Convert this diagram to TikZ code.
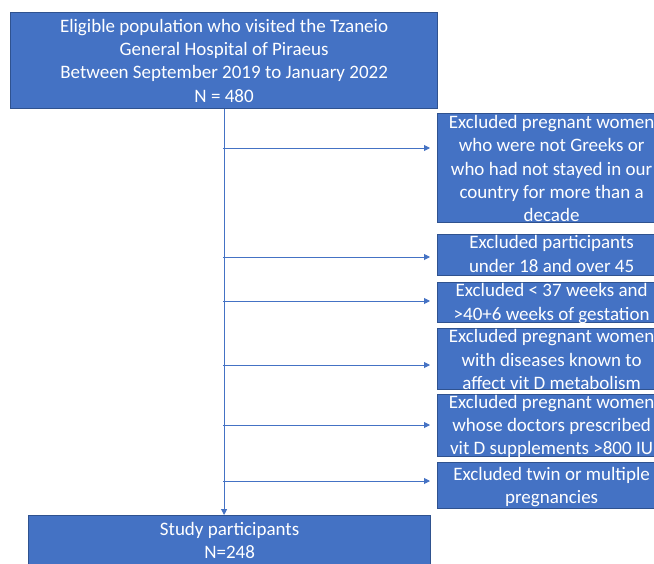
\documentclass[tikz,border=0pt]{standalone}
\usepackage{fontspec}
\setmainfont{Carlito}
\usetikzlibrary{arrows.meta}
\definecolor{boxfill}{HTML}{4472C4}
\definecolor{boxline}{HTML}{2F528F}
\definecolor{conn}{HTML}{4472C4}
\tikzset{
  box/.style={draw=boxline, line width=1.2pt, fill=boxfill, inner sep=0pt, anchor=north west},
  txt/.style={text=white, align=center, inner sep=0pt, font=\fontsize{19pt}{23.3pt}\selectfont},
  conn/.style={draw=conn, line width=0.9pt},
  arr/.style={conn, -{Triangle[length=6pt,width=6pt]}},
}
\begin{document}
\begin{tikzpicture}[x=1pt,y=-1pt]
\useasboundingbox (0,0) rectangle (654,563);
\clip (0,0) rectangle (654,563);
\fill[white] (0,0) rectangle (654,563);
% top box
\node[box, minimum width=427pt, minimum height=96pt] (top) at (10,12) {};
\node[txt] at (top.center) {Eligible population who visited the Tzaneio\\General Hospital of Piraeus\\Between September 2019 to January 2022\\N = 480};
% bottom box
\node[box, minimum width=402pt, minimum height=54pt] (bot) at (28,515) {};
\node[txt] at ([yshift=2pt]bot.center) {Study participants\\N=248};
% exclusion boxes
\node[box, minimum width=228pt, minimum height=109pt] (e1) at (437,113) {};
\node[txt] at ([yshift=-0.5pt]e1.center) {Excluded pregnant women\\who were not Greeks or\\who had not stayed in our\\country for more than a\\decade};
\node[box, minimum width=228pt, minimum height=41pt] (e2) at (437,234) {};
\node[txt] at ([yshift=1pt]e2.center) {Excluded participants\\under 18 and over 45};
\node[box, minimum width=228pt, minimum height=40pt] (e3) at (437,282) {};
\node[txt] at ([yshift=-1pt]e3.center) {Excluded {<} 37 weeks and\\{>}40+6 weeks of gestation};
\node[box, minimum width=228pt, minimum height=61pt] (e4) at (437,328) {};
\node[txt] at ([yshift=-0.5pt]e4.center) {Excluded pregnant women\\with diseases known to\\affect vit D metabolism};
\node[box, minimum width=228pt, minimum height=62pt] (e5) at (437,394) {};
\node[txt] at ([yshift=-1pt]e5.center) {Excluded pregnant women\\whose doctors prescribed\\vit D supplements {>}800 IU};
\node[box, minimum width=228pt, minimum height=46pt] (e6) at (437,462) {};
\node[txt] at ([yshift=-1.5pt]e6.center) {Excluded twin or multiple\\pregnancies};
% trunk
\draw[arr] (top.south) -- (top.south |- bot.north);
% branch points
\coordinate (b1) at (223,148);
\coordinate (b2) at (223,257);
\coordinate (b3) at (223,301);
\coordinate (b4) at (223,365);
\coordinate (b5) at (223,425);
\coordinate (b6) at (223,481);
\draw[arr, shorten >=7pt] (b1) -- (b1 -| e1.west);
\draw[arr, shorten >=7pt] (b2) -- (b2 -| e2.west);
\draw[arr, shorten >=7pt] (b3) -- (b3 -| e3.west);
\draw[arr, shorten >=7pt] (b4) -- (b4 -| e4.west);
\draw[arr, shorten >=7pt] (b5) -- (b5 -| e5.west);
\draw[arr, shorten >=7pt] (b6) -- (b6 -| e6.west);
\end{tikzpicture}
\end{document}
